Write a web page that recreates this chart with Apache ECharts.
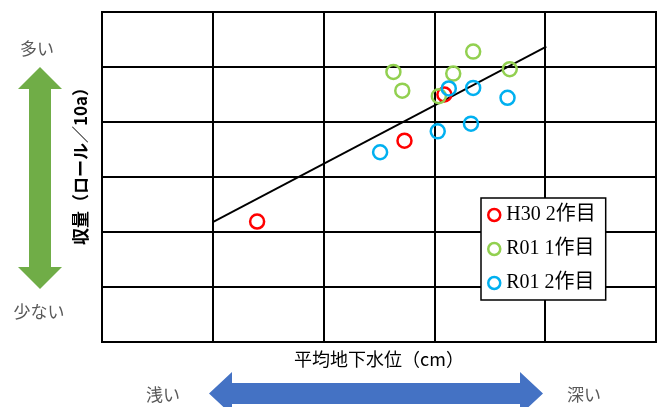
<!DOCTYPE html>
<html><head><meta charset="utf-8">
<script src="https://cdn.jsdelivr.net/npm/echarts@6/dist/echarts.min.js"></script>
<style>html,body{margin:0;padding:0;background:#fff}#c{width:662px;height:407px}</style>
</head><body><div id="c"></div>
<script>
// values in grid units (no tick labels shown in the reference)
const seriesNames = ['H30 2作目', 'R01 1作目', 'R01 2作目'];
const h30_2 = [[1.40, 2.19], [2.73, 3.66], [3.09, 4.50]];
const r01_1 = [[2.63, 4.91], [2.71, 4.57], [3.04, 4.47], [3.17, 4.88], [3.35, 5.28], [3.68, 4.96]];
const r01_2 = [[2.51, 3.45], [3.03, 3.83], [3.13, 4.61], [3.35, 4.62], [3.33, 3.97], [3.66, 4.44]];
const trend = [[1.00, 2.18], [4.01, 5.37]];
const colors = ['#ff0000', '#92d050', '#00b0f0'];
const xName = '平均地下水位（cm）';
const yName = '収量（ロール／10a）';

const chart = echarts.init(document.getElementById('c'));
const sc = (name, data, color) => ({
  name, type: 'scatter', data, symbol: 'circle', symbolSize: 14, z: 5,
  itemStyle: { color: 'rgba(255,255,255,0)', borderColor: color, borderWidth: 2.5, opacity: 1 }
});
chart.setOption({
  animation: false,
  grid: { left: 102, top: 12, width: 554, height: 330, show: true, borderColor: '#000', borderWidth: 2, backgroundColor: '#fff' },
  xAxis: {
    type: 'value', min: 0, max: 5, interval: 1,
    name: xName, nameLocation: 'middle', nameGap: 8,
    nameTextStyle: { fontFamily: 'Noto Sans CJK JP', fontSize: 18, color: '#000', verticalAlign: 'top' },
    axisLine: { lineStyle: { color: '#000', width: 2 } }, axisTick: { show: false }, axisLabel: { show: false },
    splitLine: { show: true, lineStyle: { color: '#000', width: 2 } }
  },
  yAxis: {
    type: 'value', min: 0, max: 6, interval: 1,
    name: yName, nameLocation: 'middle', nameGap: 13,
    nameTextStyle: { fontFamily: 'Noto Sans CJK JP', fontSize: 17, fontWeight: 'bold', color: '#000', padding: [0, 0, 0, 30] },
    axisLine: { lineStyle: { color: '#000', width: 2 } }, axisTick: { show: false }, axisLabel: { show: false },
    splitLine: { show: true, lineStyle: { color: '#000', width: 2 } }
  },
  legend: {
    data: seriesNames, orient: 'vertical', left: 481, top: 198,
    padding: [7, 10, 7, 6], itemGap: 14, itemWidth: 14, itemHeight: 12, itemTextGap: 3,
    backgroundColor: '#fff', borderColor: '#000', borderWidth: 1.5, borderRadius: 0,
    textStyle: { fontFamily: "'Liberation Serif', 'Noto Sans CJK JP'", fontSize: 20, color: '#000' },
    itemStyle: { borderWidth: 2.5 }
  },
  series: [
    { type: 'line', data: trend, symbol: 'none', lineStyle: { color: '#000', width: 1.8 }, z: 3, silent: true },
    sc(seriesNames[0], h30_2, colors[0]),
    sc(seriesNames[1], r01_1, colors[1]),
    sc(seriesNames[2], r01_2, colors[2])
  ],
  graphic: [
    { type: 'polygon', shape: { points: [[40,67],[62,89],[51,89],[51,267],[62,267],[40,289],[18,267],[29,267],[29,89],[18,89]] },
      style: { fill: '#70ad47' } },
    { type: 'polygon', shape: { points: [[209,393.5],[232,372],[232,383],[520,383],[520,372],[543,393.5],[520,415],[520,404],[232,404],[232,415]] },
      style: { fill: '#4472c4' } },
    { type: 'text', x: 37, y: 49, style: { text: '多い', fontFamily: 'Noto Sans CJK JP', fontSize: 17, fill: '#595959', align: 'center', verticalAlign: 'middle' } },
    { type: 'text', x: 39, y: 312, style: { text: '少ない', fontFamily: 'Noto Sans CJK JP', fontSize: 17, fill: '#595959', align: 'center', verticalAlign: 'middle' } },
    { type: 'text', x: 163, y: 395, style: { text: '浅い', fontFamily: 'Noto Sans CJK JP', fontSize: 17, fill: '#595959', align: 'center', verticalAlign: 'middle' } },
    { type: 'text', x: 584, y: 395, style: { text: '深い', fontFamily: 'Noto Sans CJK JP', fontSize: 17, fill: '#595959', align: 'center', verticalAlign: 'middle' } }
  ]
});
</script></body></html>
